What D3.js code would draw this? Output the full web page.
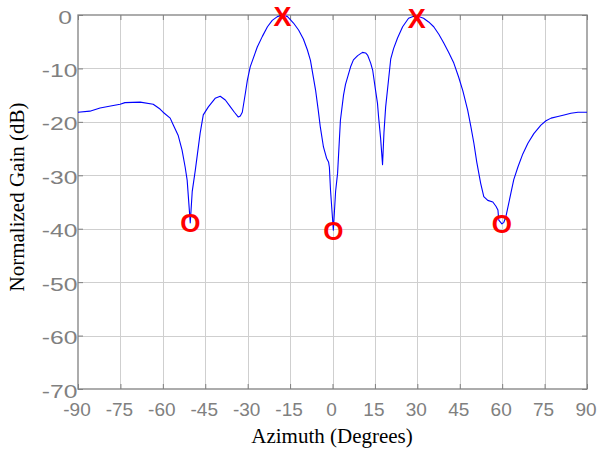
<!DOCTYPE html>
<html>
<head>
<meta charset="utf-8">
<script src="https://cdn.jsdelivr.net/npm/d3@7"></script>
<style>
  html, body { margin: 0; padding: 0; background: #ffffff; }
  svg { display: block; }
</style>
</head>
<body>
<svg id="chart" width="601" height="452"></svg>
<script>
// ---- data ----
const azimuth = [
  -90.0, -85.8, -82.2, -78.0, -75.1, -73.4, -68.0, -63.4, -61.0, -59.9,
  -57.4, -56.3, -54.6, -53.2, -52.1, -51.4, -50.3, -49.6, -48.5, -46.8,
  -45.7, -43.9, -41.5, -39.7, -37.9, -36.1, -34.7, -33.3, -32.6, -31.9,
  -30.8, -30.1, -29.1, -26.6, -24.8, -23.0, -21.3, -19.5, -17.7, -15.9,
  -13.8, -12.0, -10.3, -8.9, -7.8, -6.0, -5.0, -4.3, -3.2, -2.1,
  -1.4, -1.1, -0.7, 0.3, 1.1, 1.8, 2.8, 3.9, 4.6, 6.4,
  7.4, 8.9, 10.6, 11.7, 12.4, 13.5, 14.2, 15.2, 15.9, 16.3,
  17.0, 17.7, 18.2, 18.8, 19.8, 20.6, 21.6, 23.0, 24.8, 26.9,
  29.4, 32.2, 34.0, 35.8, 37.6, 39.3, 41.1, 42.9, 44.6, 46.1,
  47.8, 48.9, 50.0, 51.0, 52.4, 53.5, 54.9, 56.7, 57.8, 58.5,
  58.8, 59.9, 60.6, 61.3, 63.1, 64.1, 65.6, 67.3, 69.1, 71.2,
  73.7, 75.5, 77.3, 79.7, 81.9, 84.3, 86.8, 90.0
];
const gainDb = [
  -18.2, -18.0, -17.4, -17.0, -16.7, -16.4, -16.3, -16.7, -17.6, -18.2,
  -19.3, -20.6, -22.5, -25.3, -28.5, -30.9, -38.9, -33.0, -29.0, -22.1,
  -18.7, -17.2, -15.6, -15.2, -15.9, -17.2, -18.2, -19.1, -18.9, -18.2,
  -14.6, -12.2, -9.7, -6.0, -4.0, -2.2, -1.0, -0.3, 0.0, -0.3,
  -1.5, -2.8, -4.5, -6.5, -8.5, -14.0, -18.0, -21.0, -24.7, -26.8,
  -27.5, -28.5, -32.8, -40.3, -33.0, -29.6, -19.7, -15.0, -13.0, -9.7,
  -8.4, -7.6, -7.0, -7.1, -7.5, -9.0, -10.3, -14.0, -16.5, -19.1,
  -23.0, -28.0, -22.0, -17.2, -12.2, -8.2, -6.3, -4.3, -2.2, -0.6,
  -0.1, -0.6, -1.3, -2.2, -3.6, -5.2, -7.0, -9.0, -11.6, -14.2,
  -17.8, -20.8, -24.0, -27.5, -31.5, -34.0, -34.7, -35.0, -35.8, -36.5,
  -38.4, -39.1, -38.8, -37.8, -33.3, -30.8, -28.4, -26.0, -24.0, -22.2,
  -20.6, -19.8, -19.3, -19.0, -18.7, -18.4, -18.2, -18.2
];
const xTickValues = [-90, -75, -60, -45, -30, -15, 0, 15, 30, 45, 60, 75, 90];
const yTickValues = [0, -10, -20, -30, -40, -50, -60, -70];
const peakAz = [-17.7, 29.8];
const peakGain = [-0.2, -0.7];
const nullAz = [-50.3, 0.3, 59.9];
const nullGain = [-38.9, -40.3, -39.1];
const xLabel = "Azimuth (Degrees)";
const yLabel = "Normalized Gain (dB)";

// ---- layout ----
const W = 601, H = 452;
const mLeft = 78, mRight = 587, mTop = 15, mBottom = 389;

const svg = d3.select("#chart");
svg.append("rect").attr("width", W).attr("height", H).attr("fill", "#ffffff");

const x = d3.scaleLinear().domain([-90, 90]).range([mLeft, mRight]);
const y = d3.scaleLinear().domain([-70, 0]).range([mBottom, mTop]);

const axisColor = "#808080";
const gridColor = "#cfcfcf";

// grid
const grid = svg.append("g");
grid.selectAll("line.gx").data(xTickValues.slice(1, -1)).enter().append("line")
  .attr("x1", d => Math.round(x(d)) + 0.5).attr("x2", d => Math.round(x(d)) + 0.5)
  .attr("y1", mTop).attr("y2", mBottom)
  .attr("stroke", gridColor).attr("stroke-width", 1);
grid.selectAll("line.gy").data(yTickValues.slice(1, -1)).enter().append("line")
  .attr("y1", d => Math.round(y(d)) + 0.5).attr("y2", d => Math.round(y(d)) + 0.5)
  .attr("x1", mLeft).attr("x2", mRight)
  .attr("stroke", gridColor).attr("stroke-width", 1);

// axes with inward ticks
const tickLen = 5;
const xAxisB = d3.axisBottom(x).tickValues(xTickValues).tickSize(-tickLen).tickFormat(d => d);
const xAxisT = d3.axisTop(x).tickValues(xTickValues).tickSize(-tickLen).tickFormat("");
const yAxisL = d3.axisLeft(y).tickValues(yTickValues).tickSize(-tickLen).tickFormat(d => d);
const yAxisR = d3.axisRight(y).tickValues(yTickValues).tickSize(-tickLen).tickFormat("");

function styleAxis(g) {
  g.select(".domain").remove();
  g.selectAll(".tick line").attr("stroke", axisColor).attr("stroke-width", 1);
}

const gB = svg.append("g").attr("transform", `translate(0,${mBottom})`).call(xAxisB).call(styleAxis);
gB.selectAll(".tick text")
  .attr("fill", axisColor).attr("font-family", "Arial, 'Liberation Sans', sans-serif")
  .attr("font-size", 19).attr("dy", null).attr("y", 27).attr("dx", -1.5);

svg.append("g").attr("transform", `translate(0,${mTop})`).call(xAxisT).call(styleAxis);

const gL = svg.append("g").attr("transform", `translate(${mLeft},0)`).call(yAxisL).call(styleAxis);
gL.selectAll(".tick text")
  .attr("fill", axisColor).attr("font-family", "Arial, 'Liberation Sans', sans-serif")
  .attr("font-size", 19).attr("x", null).attr("dy", null)
  .attr("text-anchor", "end")
  .attr("transform", d => d === 0 ? "translate(-6,8) scale(1.3,1)" : "translate(-0.5,8) scale(1.3,1)");

svg.append("g").attr("transform", `translate(${mRight},0)`).call(yAxisR).call(styleAxis);

// box
svg.append("rect")
  .attr("x", mLeft).attr("y", mTop).attr("width", mRight - mLeft).attr("height", mBottom - mTop)
  .attr("fill", "none").attr("stroke", axisColor).attr("stroke-width", 1.3);

// curve
const pts = azimuth.map((a, i) => [a, gainDb[i]]);
const line = d3.line().x(d => x(d[0])).y(d => y(d[1]));
svg.append("path").datum(pts)
  .attr("d", line).attr("fill", "none")
  .attr("stroke", "#0000ff").attr("stroke-width", 1.1).attr("stroke-linejoin", "round");

// markers as text glyphs
const markFont = "Arial, 'Liberation Sans', sans-serif";
svg.append("g").selectAll("text").data(peakAz.map((a, i) => [a, peakGain[i]])).enter()
  .append("text")
  .attr("x", d => x(d[0])).attr("y", d => y(d[1]) + 9.5)
  .attr("text-anchor", "middle").attr("font-family", markFont)
  .attr("font-weight", "bold").attr("font-size", 27).attr("fill", "#ff0000")
  .text("X");
svg.append("g").selectAll("text").data(nullAz.map((a, i) => [a, nullGain[i]])).enter()
  .append("text")
  .attr("x", d => x(d[0])).attr("y", d => y(d[1]) + 9.5)
  .attr("text-anchor", "middle").attr("font-family", markFont)
  .attr("font-weight", "bold").attr("font-size", 26).attr("fill", "#ff0000")
  .text("O");

// axis labels
svg.append("text")
  .attr("x", (mLeft + mRight) / 2 - 0.5).attr("y", 443)
  .attr("text-anchor", "middle")
  .attr("font-family", "'Times New Roman', 'Liberation Serif', serif")
  .attr("font-size", 21).attr("fill", "#000000")
  .text(xLabel);
svg.append("text")
  .attr("transform", `translate(24,${(mTop + mBottom) / 2 - 5}) rotate(-90)`)
  .attr("text-anchor", "middle")
  .attr("font-family", "'Times New Roman', 'Liberation Serif', serif")
  .attr("font-size", 21).attr("fill", "#000000")
  .text(yLabel);
</script>
</body>
</html>
